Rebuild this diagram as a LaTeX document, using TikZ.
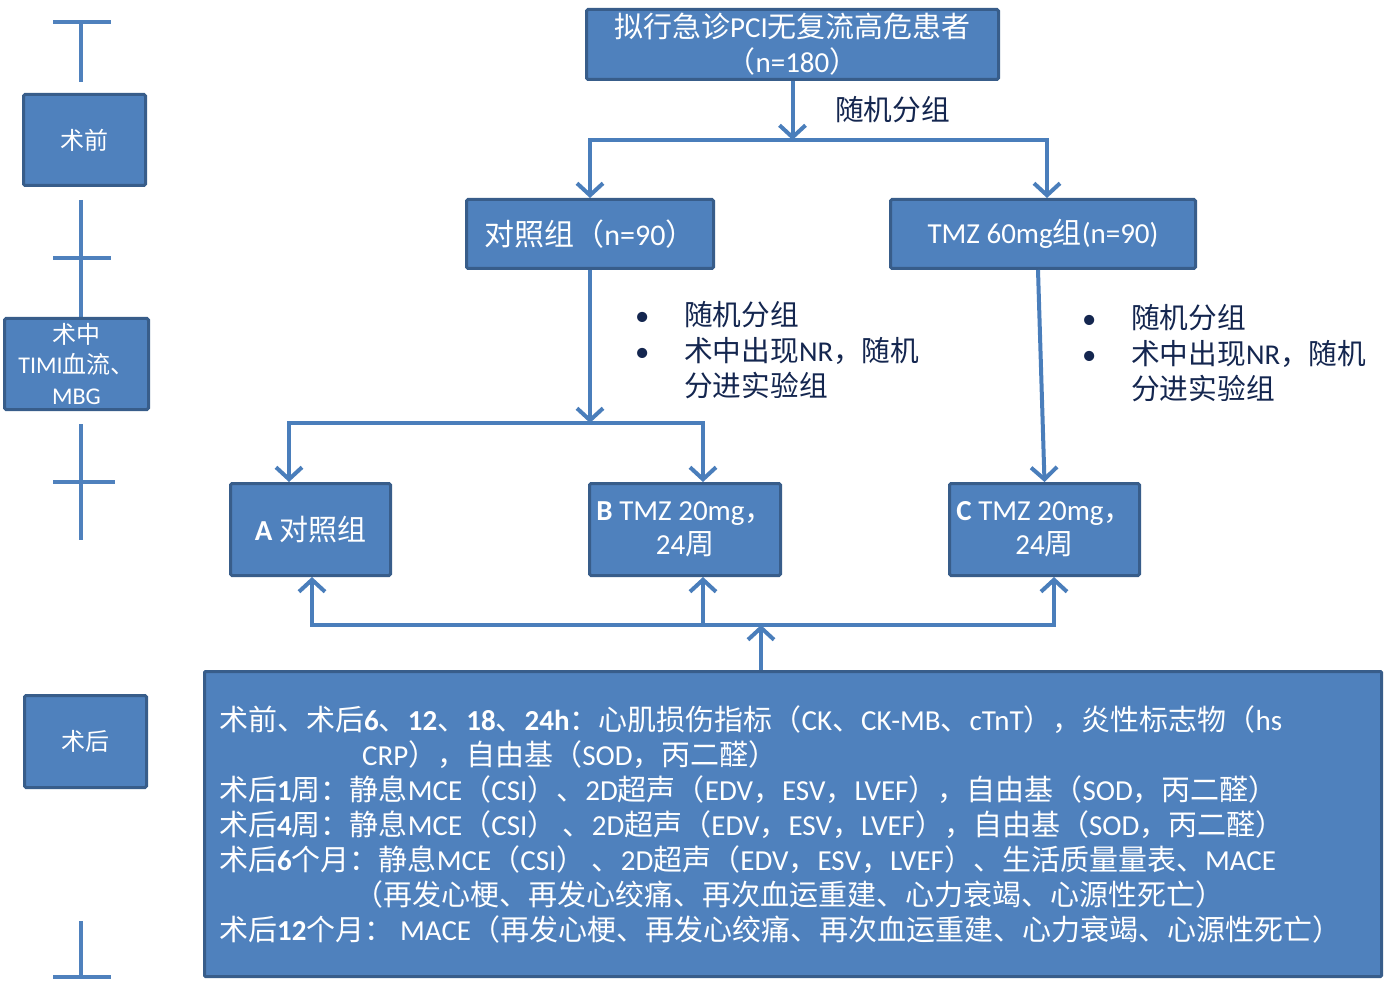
\documentclass[tikz,border=0pt]{standalone}
\usepackage{fontspec}
\setmainfont{Carlito}
\newfontfamily\cjkf{Noto Sans CJK SC}[BoldFont={Noto Sans CJK SC}]
\usetikzlibrary{arrows.meta}
\definecolor{boxfill}{HTML}{4F81BD}
\definecolor{boxline}{HTML}{385D8A}
\definecolor{connc}{HTML}{4A7EBB}
\definecolor{navy}{HTML}{14264F}
% automatic switching between Latin (Carlito) and CJK (Noto Sans CJK SC)
\ifdefined\newXeTeXintercharclass \newXeTeXintercharclass\myCJK \else \chardef\myCJK=7 \fi
\newcount\rgc
\def\cjkrange#1#2{\rgc=#1\relax
  \loop \XeTeXcharclass\rgc=\myCJK\relax \ifnum\rgc<#2\relax \advance\rgc by 1 \repeat}
\cjkrange{"3000}{"303F}
\cjkrange{"4E00}{"9FFF}
\cjkrange{"FF00}{"FFEF}
\XeTeXinterchartoks 0 \myCJK = {\cjkf}
\XeTeXinterchartoks 4095 \myCJK = {\cjkf}
\XeTeXinterchartoks \myCJK 0 = {\rmfamily}
\XeTeXinterchartoks 4095 0 = {\rmfamily}
\XeTeXinterchartokenstate=1
\begin{document}
\begin{tikzpicture}[x=1pt,y=-1pt,
  box/.style={draw=boxline, fill=boxfill, line width=3pt, rounded corners=1.5pt, text=white,
    inner sep=0pt, align=center, font=\fontsize{29}{34}\selectfont},
  conn/.style={draw=connc, line width=4pt, -{Straight Barb[length=12pt,width=26pt,line width=4pt]}},
  tl/.style={draw=boxfill, line width=4.5pt},
  note/.style={text=navy, font=\fontsize{28.7}{35}\selectfont, inner sep=0pt, anchor=base west},
  btxt/.style={text=white, font=\fontsize{29}{35}\selectfont, inner sep=0pt, anchor=base west},
  side/.style={box, font=\fontsize{24}{30.5}\selectfont}]
\useasboundingbox (0,0) rectangle (1386,981);

% timeline
\draw[tl] (53,22) -- (111,22);
\draw[tl] (81,22) -- (81,82);
\draw[tl] (81,200) -- (81,318);
\draw[tl] (53,258) -- (111,258);
\draw[tl] (81,424) -- (81,540);
\draw[tl] (53,482) -- (115,482);
\draw[tl] (81,921) -- (81,977);
\draw[tl] (53,977) -- (111,977);

\node[side, minimum width=122, minimum height=91] (pre) at (84.5,140) {术前};
\node[side, font=\fontsize{24}{30.5}\selectfont, minimum width=144, minimum height=91] (mid) at (76.5,364) {术中\\TIMI血流、\\MBG};
\node[side, minimum width=122, minimum height=92] (postl) at (85.5,741.5) {术后};

% main boxes
\node[box, font=\fontsize{29}{35}\selectfont, minimum width=412, minimum height=70] (top) at (792.5,44.5) {拟行急诊PCI无复流高危患者\\（n=180）};
\node[box, font=\fontsize{30}{34}\selectfont, minimum width=247, minimum height=69] (ctrl) at (590,234) {对照组（n=90）};
\node[box, minimum width=305, minimum height=69] (tmz) at (1043,234) {TMZ 60mg组(n=90)};
\node[box, minimum width=160, minimum height=92] (A) at (310.5,529.5) {\textbf{A} 对照组};
\node[box, minimum width=191, minimum height=92] (B) at (685,529.5) {\textbf{B} TMZ 20mg，\\24周};
\node[box, minimum width=190, minimum height=92] (C) at (1044.5,529.5) {\textbf{C} TMZ 20mg，\\24周};
\node[box, minimum width=1177, minimum height=305, rounded corners=1pt] (post) at (793,824) {};

% labels
\node[note] (lab) at (835,121) {随机分组};
\node[note] (b1) at (635,326) {•};
\node[note] (t1) at (684,326) {随机分组};
\node[note] (b2) at (635,361) {•};
\node[note] (t2) at (684,361) {术中出现NR，随机};
\node[note] (t3) at (684,396) {分进实验组};
\node[note] (b3) at (1082,329) {•};
\node[note] (t4) at (1131,329) {随机分组};
\node[note] (b4) at (1082,364) {•};
\node[note] (t5) at (1131,364) {术中出现NR，随机};
\node[note] (t6) at (1131,399) {分进实验组};

% bottom text
\node[btxt] (l1) at (219,730) {\textbf{术前、术后6、12、18、24h：}心肌损伤指标（CK、CK-MB、cTnT），炎性标志物（hs};
\node[btxt] (l2) at (362,765) {CRP），自由基（SOD，丙二醛）};
\node[btxt] (l3) at (219,800) {\textbf{术后1周：}静息MCE（CSI）、2D超声（EDV，ESV，LVEF），自由基（SOD，丙二醛）};
\node[btxt] (l4) at (219,835) {\textbf{术后4周：}静息MCE（CSI） 、2D超声（EDV，ESV，LVEF），自由基（SOD，丙二醛）};
\node[btxt] (l5) at (219,870) {\textbf{术后6个月：}静息MCE（CSI） 、2D超声（EDV，ESV，LVEF）、生活质量量表、MACE};
\node[btxt] (l6) at (354,905) {（再发心梗、再发心绞痛、再次血运重建、心力衰竭、心源性死亡）};
\node[btxt] (l7) at (219,940) {\textbf{术后12个月：} MACE（再发心梗、再发心绞痛、再次血运重建、心力衰竭、心源性死亡）};

% connectors
\coordinate (s1) at (top.south |- 0,140);
\draw[conn] (top.south) -- (s1);
\draw[conn] (s1) -| (ctrl.north);
\draw[conn] (s1) -| ([xshift=4pt]tmz.north);
\coordinate (s2) at (ctrl.south |- 0,423);
\draw[conn] (ctrl.south) -- (s2);
\draw[conn] (s2) -| ([xshift=-21.5pt]A.north);
\draw[conn] (s2) -| ([xshift=18pt]B.north);
\draw[conn] ([xshift=-5pt]tmz.south) -- (C.north);
\coordinate (j) at (761,625);
\draw[conn] (post.north -| j) -- (j);
\draw[conn] (j) -| ([xshift=1.5pt]A.south);
\draw[conn] (j) -| ([xshift=18pt]B.south);
\draw[conn] (j) -| ([xshift=9.5pt]C.south);
\end{tikzpicture}
\end{document}
